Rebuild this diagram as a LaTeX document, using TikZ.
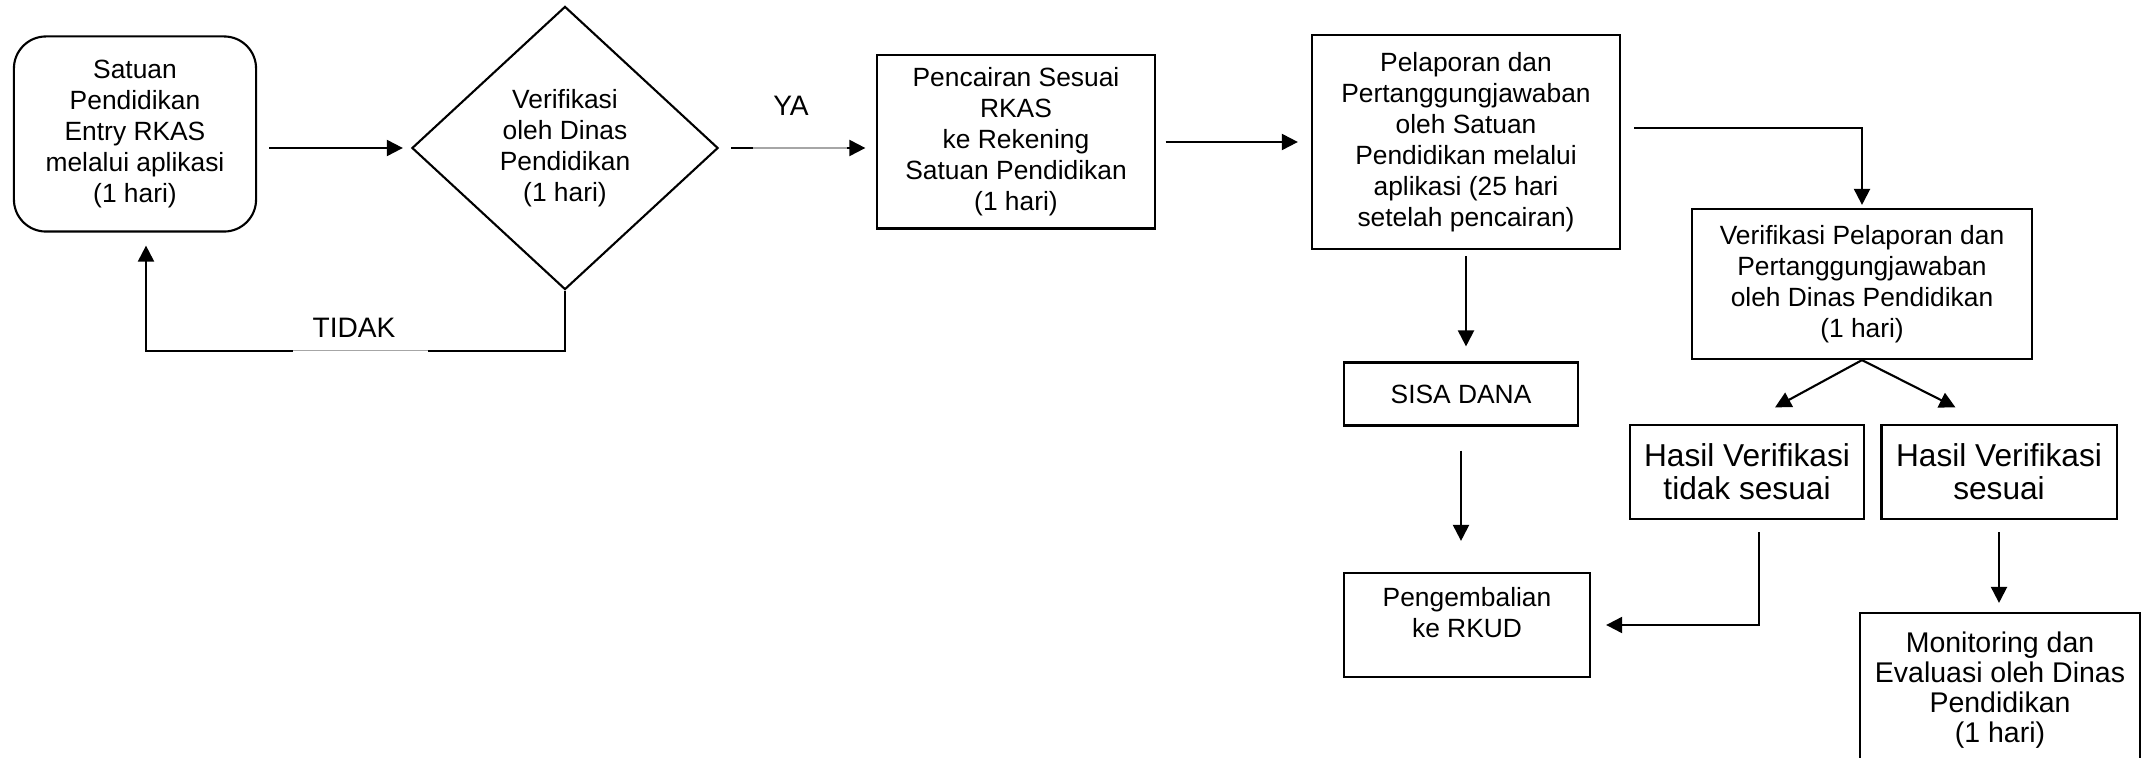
\documentclass[tikz,border=0pt]{standalone}
\usepackage{fontspec}
\setmainfont{Liberation Sans}
\usetikzlibrary{shapes.geometric,arrows.meta}

\begin{document}
\begin{tikzpicture}[x=0.01cm,y=-0.01cm,line width=0.6pt,
  font=\fontsize{7.5}{8.8}\selectfont,
  box/.style={draw, align=center, inner sep=0pt},
  bigtext/.style={font=\fontsize{9}{9.4}\selectfont},
  midtext/.style={font=\fontsize{8.1}{8.6}\selectfont},
  lbl/.style={font=\fontsize{8}{9.6}\selectfont},
  arr/.style={-{Triangle[length=1.6mm,width=1.6mm]}},
  gapline/.style={draw=gray!70, line width=0.3pt, preaction={draw=white, line width=1.2pt}}]

   \useasboundingbox (0,0) rectangle (2146,758);

   \node[box, rounded corners=0.32cm, minimum width=2.42cm, minimum height=1.95cm] (entry) at (135,134)
     {Satuan\\Pendidikan\\Entry RKAS\\melalui aplikasi\\(1 hari)};
   \node[box, diamond, minimum width=3.06cm, minimum height=2.83cm] (verif) at (565,148)
     {Verifikasi\\oleh Dinas\\Pendidikan\\(1 hari)};
   \node[box, minimum width=2.77cm, minimum height=1.73cm] (pencairan) at (1016,142)
     {Pencairan Sesuai\\RKAS\\ke Rekening\\Satuan Pendidikan\\(1 hari)};
   \node[box, minimum width=3.08cm, minimum height=2.14cm] (pelaporan) at (1466,142)
     {Pelaporan dan\\Pertanggungjawaban\\oleh Satuan\\Pendidikan melalui\\aplikasi (25 hari\\setelah pencairan)};
   \node[box, minimum width=3.40cm, minimum height=1.50cm] (verlap) at (1862,284)
     {Verifikasi Pelaporan dan\\Pertanggungjawaban\\oleh Dinas Pendidikan\\(1 hari)};
   \node[box, minimum width=2.34cm, minimum height=0.63cm] (sisa) at (1461,394) {SISA DANA};
   \node[box, minimum width=2.46cm, minimum height=1.04cm, text depth=0.26cm] (kembali) at (1467,625)
     {Pengembalian\\ke RKUD};
   \node[box, bigtext, minimum width=2.34cm, minimum height=0.94cm] (tidak) at (1747,472)
     {Hasil Verifikasi\\tidak sesuai};
   \node[box, bigtext, minimum width=2.35cm, minimum height=0.94cm] (sesuai) at (1999,472)
     {Hasil Verifikasi\\sesuai};
   \node[box, midtext, minimum width=2.80cm, minimum height=1.54cm] (monitor) at (2000,690)
     {Monitoring dan\\Evaluasi oleh Dinas\\Pendidikan\\(1 hari)};

   \node[lbl] (ya) at (791,106) {YA};
   \node[lbl] (tidaklbl) at (354,328) {TIDAK};

   \draw[arr, shorten <=0.12cm, shorten >=0.08cm] (entry.east |- verif.west) -- (verif.west);
   \draw[arr, shorten <=0.12cm, shorten >=0.11cm] (verif.east)
     -- coordinate[pos=0.215] (ya1) coordinate[pos=0.81] (ya2) (verif.east -| pencairan.west);
   \draw[gapline] (ya1) -- (ya2);
   \draw[arr, shorten >=0.13cm] (verif.south) -- ++(0,60) -- ++(-137,0) coordinate (t1)
     -- ++(-135,0) coordinate (t2) -| ([xshift=0.11cm]entry.south);
   \draw[gapline] (t1) -- (t2);

   \draw[arr, shorten <=0.10cm, shorten >=0.13cm] (pencairan.east) -- (pencairan.east -| pelaporan.west);
   \draw[arr, shorten <=0.13cm, shorten >=0.03cm] ([yshift=0.14cm]pelaporan.east) -| (verlap.north);
   \draw[arr, shorten <=0.06cm, shorten >=0.15cm] (pelaporan.south) -- (pelaporan.south |- sisa.north);
   \draw[arr, shorten <=0.24cm, shorten >=0.31cm] (sisa.south) -- (sisa.south |- kembali.north);

   \draw[arr] (verlap.south) -- ([xshift=0.28cm,yshift=0.165cm]tidak.north);
   \draw[arr] (verlap.south) -- ([xshift=-0.435cm,yshift=0.165cm]sesuai.north);
   \draw[arr, shorten <=0.12cm, shorten >=0.15cm] ([xshift=0.12cm]tidak.south) |- (kembali.east);
   \draw[arr, shorten <=0.12cm, shorten >=0.09cm] (sesuai.south) -- (sesuai.south |- monitor.north);

\end{tikzpicture}
\end{document}
